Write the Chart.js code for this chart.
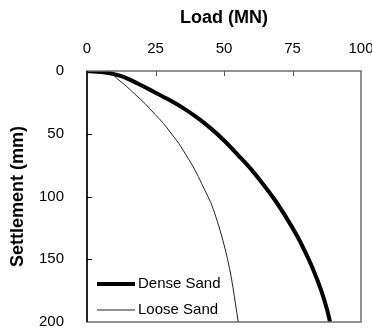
<!DOCTYPE html>
<html>
<head>
<meta charset="utf-8">
<script src="https://cdn.jsdelivr.net/npm/chart.js@4"></script>
<style>
  body { margin: 0; background: #fff; }
</style>
</head>
<body>
<canvas id="myChart" width="372" height="334"></canvas>
<script>
/* data */
const seriesNames = ['Dense Sand', 'Loose Sand'];

const denseSettlement = [0, 1.2, 3, 5.2, 10, 15.8, 22, 29, 37, 46.5, 56, 67, 78.6, 90, 102.6, 117, 131.9, 145, 158.5, 175, 190, 200];
const denseLoad =       [0, 6.6, 10.8, 13.9, 18.5, 23.7, 29.1, 34.7, 40.1, 45.6, 50.3, 55.1, 60, 64.2, 68.5, 72.8, 76.8, 79.8, 82.6, 85.5, 87.6, 88.7];

const looseSettlement = [0, 1, 5.6, 12, 18.5, 26, 34.5, 42, 50.5, 58, 66.4, 75, 84, 95, 105, 120, 135, 150, 165, 180, 200];
const looseLoad =       [0, 6.5, 10.7, 14.3, 17.5, 21.2, 24.8, 28, 31, 33.6, 36, 38.4, 40.6, 43, 45.2, 47.6, 49.6, 51.3, 52.7, 53.8, 55.2];

const loadTicks = [0, 25, 50, 75, 100];
const settlementTicks = [0, 50, 100, 150, 200];

const toPoints = (xs, ys) => xs.map((x, i) => ({ x: x, y: ys[i] }));

/* frame, inward tick marks and legend */
const framePlugin = {
  id: 'frame',
  afterDatasetsDraw(chart) {
    const { ctx, chartArea: a, scales } = chart;
    ctx.save();
    // gray box
    ctx.strokeStyle = '#6e6e6e';
    ctx.lineWidth = 1.5;
    ctx.strokeRect(a.left, a.top, a.right - a.left, a.bottom - a.top);
    // black left axis
    ctx.strokeStyle = '#000';
    ctx.beginPath();
    ctx.moveTo(a.left, a.top);
    ctx.lineTo(a.left, a.bottom);
    ctx.stroke();
    // ticks
    ctx.lineWidth = 1;
    ctx.strokeStyle = '#555';
    loadTicks.slice(1, -1).forEach(v => {
      const px = Math.round(scales.x.getPixelForValue(v)) + 0.5;
      ctx.beginPath();
      ctx.moveTo(px, a.top);
      ctx.lineTo(px, a.top + 5);
      ctx.stroke();
    });
    ctx.strokeStyle = '#000';
    settlementTicks.slice(1, -1).forEach(v => {
      const py = Math.round(scales.y.getPixelForValue(v)) + 0.5;
      ctx.beginPath();
      ctx.moveTo(a.left, py);
      ctx.lineTo(a.left + 5, py);
      ctx.stroke();
    });

    // legend
    ctx.font = '15px "Liberation Sans", Arial, sans-serif';
    ctx.textBaseline = 'middle';
    ctx.fillStyle = '#000';
    chart.data.datasets.forEach((ds, i) => {
      const y = a.bottom - 38 + i * 26;
      ctx.strokeStyle = ds.borderColor;
      ctx.lineWidth = ds.borderWidth;
      ctx.beginPath();
      ctx.moveTo(a.left + 10, y);
      ctx.lineTo(a.left + 48, y);
      ctx.stroke();
      ctx.fillText(ds.label, a.left + 51, y);
    });
    ctx.restore();
  }
};

Chart.defaults.color = '#000';
Chart.defaults.font.family = '"Liberation Sans", Arial, sans-serif';

const myChart = document.getElementById('myChart').getContext('2d');

const settleChart = new Chart(myChart, {
  type: 'scatter',
  data: {
    datasets: [{
      label: seriesNames[0],
      data: toPoints(denseLoad, denseSettlement),
      showLine: true,
      borderColor: '#000',
      borderWidth: 4,
      pointRadius: 0,
      cubicInterpolationMode: 'monotone'
    }, {
      label: seriesNames[1],
      data: toPoints(looseLoad, looseSettlement),
      showLine: true,
      borderColor: '#222',
      borderWidth: 1,
      pointRadius: 0,
      cubicInterpolationMode: 'monotone'
    }]
  },
  options: {
    indexAxis: 'y', // settlement drives the curve
    responsive: false,
    animation: false,
    layout: { padding: { left: 0, top: 0, right: 11, bottom: 12 } },
    plugins: {
      legend: { display: false },
      tooltip: { enabled: false }
    },
    scales: {
      x: {
        type: 'linear',
        position: 'top',
        min: 0,
        max: 100,
        afterBuildTicks: scale => { scale.ticks = loadTicks.map(v => ({ value: v })); },
        afterFit: scale => {
          scale.height = 71;
          scale.paddingLeft = 0;
          scale.paddingRight = 0;
        },
        grid: { display: false },
        border: { display: false },
        ticks: { padding: 5, font: { size: 15 } },
        title: {
          display: true,
          text: 'Load (MN)',
          font: { size: 18, weight: 'bold' },
          padding: { top: 7, bottom: 0 }
        }
      },
      y: {
        type: 'linear',
        reverse: true,
        min: 0,
        max: 200,
        afterBuildTicks: scale => { scale.ticks = settlementTicks.map(v => ({ value: v })); },
        afterFit: scale => {
          scale.width = 87;
          scale.paddingTop = 0;
          scale.paddingBottom = 0;
        },
        grid: { display: false },
        border: { display: false },
        ticks: { padding: 15, font: { size: 15 } },
        title: {
          display: true,
          text: 'Settlement (mm)',
          font: { size: 18, weight: 'bold' },
          padding: { top: 7, bottom: 0 }
        }
      }
    }
  },
  plugins: [framePlugin]
});
</script>
</body>
</html>
